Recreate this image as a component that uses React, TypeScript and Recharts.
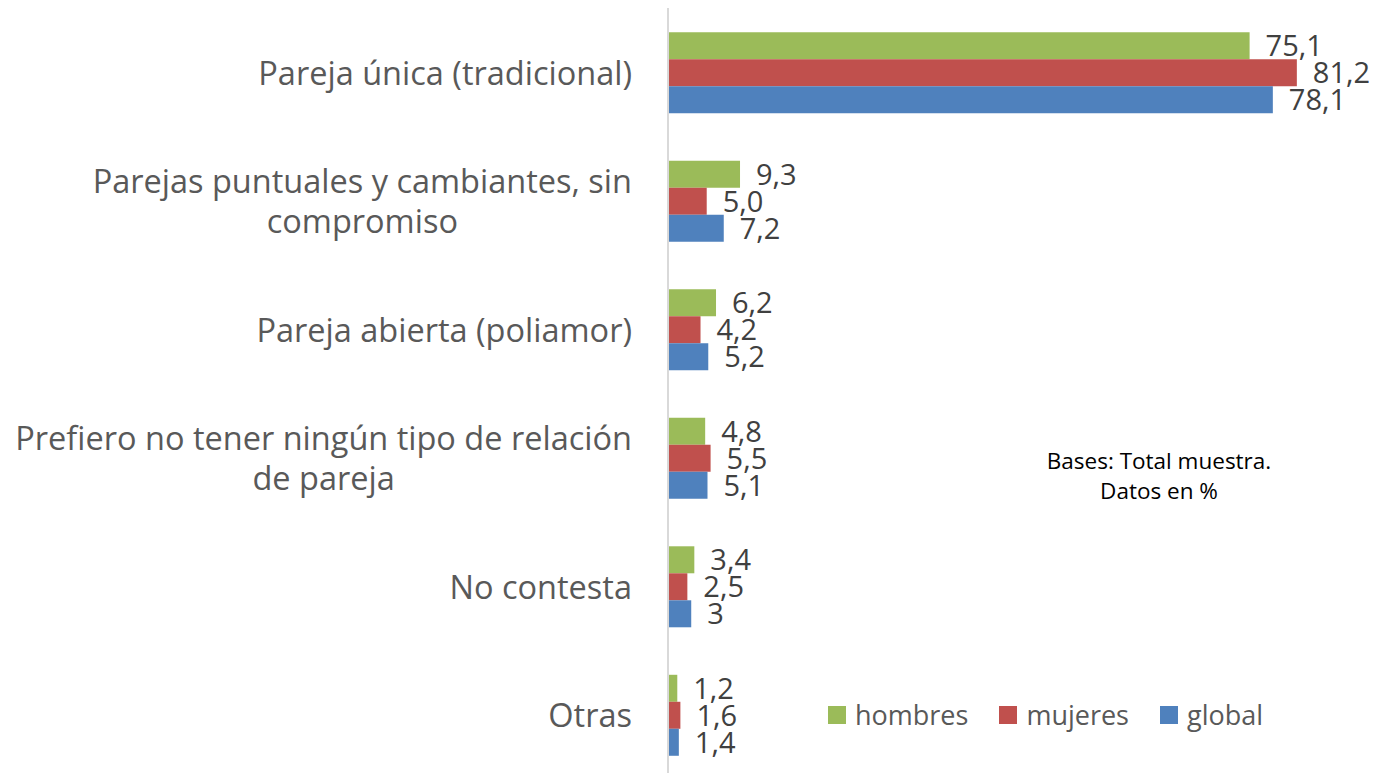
import React from "react";
import { BarChart, Bar, XAxis, YAxis, LabelList } from "recharts";

const categories = [
  "Pareja única (tradicional)",
  "Parejas puntuales y cambiantes, sin compromiso",
  "Pareja abierta (poliamor)",
  "Prefiero no tener ningún tipo de relación de pareja",
  "No contesta",
  "Otras",
];
const hombres = [75.1, 9.3, 6.2, 4.8, 3.4, 1.2];
const mujeres = [81.2, 5.0, 4.2, 5.5, 2.5, 1.6];
const global = [78.1, 7.2, 5.2, 5.1, 3, 1.4];
const hombresLabels = ["75,1", "9,3", "6,2", "4,8", "3,4", "1,2"];
const mujeresLabels = ["81,2", "5,0", "4,2", "5,5", "2,5", "1,6"];
const globalLabels = ["78,1", "7,2", "5,2", "5,1", "3", "1,4"];
const noteLines = ["Bases: Total muestra.", "Datos en %"];

const series = [
  { key: "hombres", name: "hombres", color: "#9BBB59" },
  { key: "mujeres", name: "mujeres", color: "#C0504D" },
  { key: "global", name: "global", color: "#4F81BD" },
];

const data = categories.map((c, i) => ({
  name: c,
  hombres: hombres[i],
  mujeres: mujeres[i],
  global: global[i],
  hombresLabel: hombresLabels[i],
  mujeresLabel: mujeresLabels[i],
  globalLabel: globalLabels[i],
}));

const FONT_FAMILY = "'Open Sans'";
const FONT = FONT_FAMILY + ", sans-serif";
const CAT_SIZE = 32.5;

let ctx: CanvasRenderingContext2D | null = null;
function measure(text: string, size: number) {
  if (!ctx) {
    const c = document.createElement("canvas");
    ctx = c.getContext("2d");
  }
  if (!ctx) return text.length * size * 0.5;
  ctx.font = `${size}px ${FONT_FAMILY}`;
  return ctx.measureText(text).width;
}
function wrap(text: string, maxWidth: number, size: number) {
  const words = text.split(" ");
  const lines: string[] = [];
  let cur = "";
  for (const w of words) {
    const test = cur ? cur + " " + w : w;
    if (cur && measure(test, size) > maxWidth) {
      lines.push(cur);
      cur = w;
    } else {
      cur = test;
    }
  }
  if (cur) lines.push(cur);
  return lines;
}

const CategoryTick = (props: any) => {
  const { x, y, payload } = props;
  const lines = wrap(payload.value, 640, CAT_SIZE);
  const maxW = Math.max(...lines.map((l) => measure(l, CAT_SIZE)));
  const cx = x - maxW / 2;
  const lh = 40;
  const start = -((lines.length - 1) * lh) / 2;
  return (
    <text
      x={cx}
      y={y}
      textAnchor="middle"
      fill="#595959"
      style={{ fontFamily: FONT, fontSize: CAT_SIZE }}
    >
      {lines.map((l, i) => (
        <tspan key={i} x={cx} dy={i === 0 ? start : lh} dominantBaseline="central">
          {l}
        </tspan>
      ))}
    </text>
  );
};

export default function App() {
  return (
    <div
      style={{
        position: "absolute",
        left: 0,
        top: 0,
        width: 1374,
        height: 773,
        overflow: "hidden",
        background: "#fff",
      }}
    >
      <BarChart
        width={1374}
        height={779}
        data={data}
        layout="vertical"
        margin={{ top: 8, right: 9, bottom: 0, left: 0 }}
        barCategoryGap="18.9%"
        barGap={0}
      >
        <XAxis type="number" domain={[0, 90]} hide />
        <YAxis
          type="category"
          dataKey="name"
          width={668}
          tickSize={0}
          tickMargin={36}
          tickLine={false}
          axisLine={{ stroke: "#D9D9D9", strokeWidth: 2 }}
          tick={<CategoryTick />}
          interval={0}
        />
        {series.map((s) => (
          <Bar key={s.key} dataKey={s.key} name={s.name} fill={s.color} isAnimationActive={false}>
            <LabelList
              dataKey={s.key + "Label"}
              position="right"
              offset={16}
              fill="#404040"
              style={{ fontFamily: FONT, fontSize: 29 }}
            />
          </Bar>
        ))}
        {noteLines.map((t, i) => (
          <text
            key={i}
            x={1159}
            y={469 + i * 30}
            textAnchor="middle"
            fill="#000"
            style={{ fontFamily: FONT, fontSize: 22.5 }}
          >
            {t}
          </text>
        ))}
      </BarChart>
      <div
        style={{
          position: "absolute",
          left: 828,
          top: 696,
          display: "flex",
          alignItems: "center",
          fontFamily: FONT,
          fontSize: 27,
          color: "#595959",
          whiteSpace: "nowrap",
        }}
      >
        {series.map((s) => (
          <div key={s.key} style={{ display: "flex", alignItems: "center", marginRight: 31 }}>
            <span
              style={{ display: "inline-block", width: 18, height: 18, background: s.color, marginRight: 9 }}
            />
            <span>{s.name}</span>
          </div>
        ))}
      </div>
    </div>
  );
}
